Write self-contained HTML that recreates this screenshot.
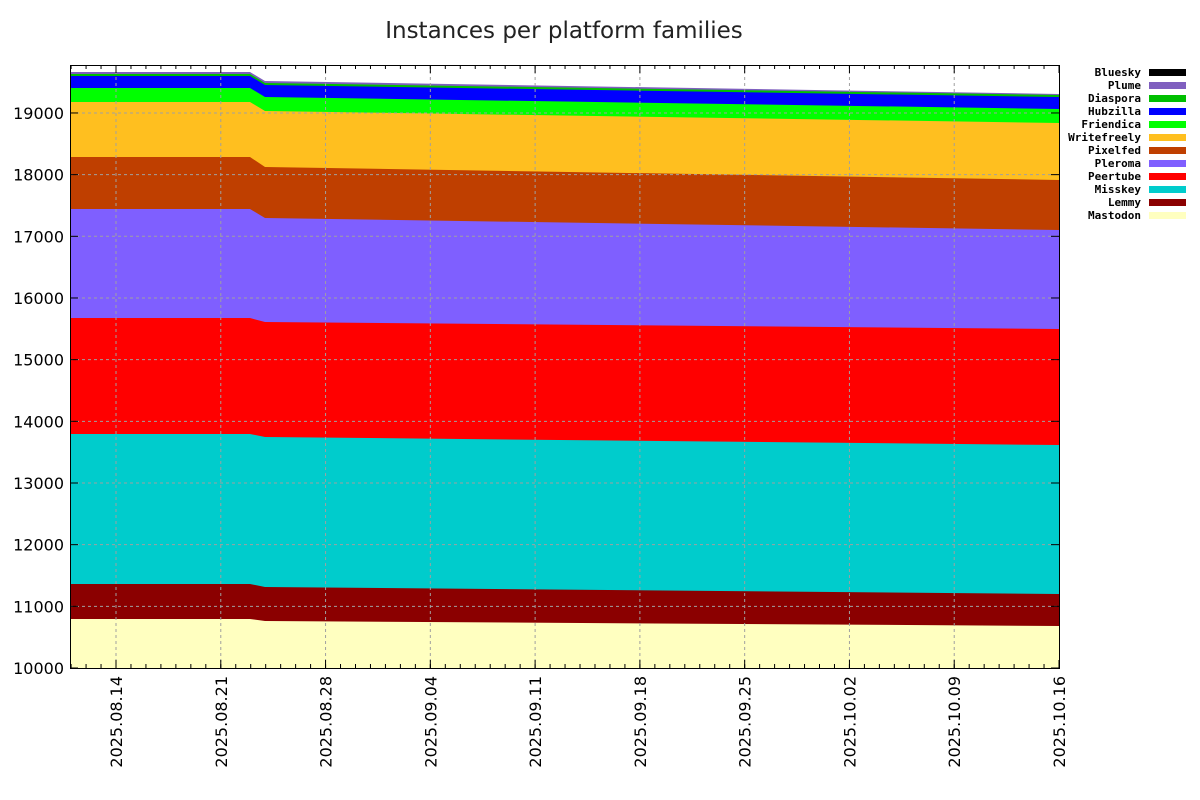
<!DOCTYPE html>
<html><head><meta charset="utf-8"><style>body{margin:0;background:#fff}svg{display:block}</style></head><body>
<svg id="s" width="1200" height="800" xmlns="http://www.w3.org/2000/svg" font-family="DejaVu Sans, sans-serif">
<text x="564" y="38" font-size="23" text-anchor="middle" fill="#222">Instances per platform families</text>
<g id="layers"></g>
<g id="grid" stroke="#a0a0a0" stroke-dasharray="3,3" stroke-width="1"></g>
<rect x="70.5" y="65.5" width="989" height="603" fill="none" stroke="#000" stroke-width="1"/>
<g id="ticks" stroke="#000"></g>
<g id="lab" font-size="16" fill="#000"></g>
<g id="leg" font-family="DejaVu Sans Mono, monospace" font-weight="bold" font-size="11" text-anchor="end"></g>
</svg>
<script>
var L=[["Plume","#7f5fbf",[72,81,94]],["Diaspora","#00bf00",[74,83,95]],["Hubzilla","#0000ff",[76,85,97]],["Friendica","#00ff00",[88,97,109]],["Writefreely","#ffbf1f",[102,111,123]],["Pixelfed","#bf3f00",[157,167,180]],["Pleroma","#7f5fff",[209,218,230]],["Peertube","#ff0000",[318,322,329]],["Misskey","#00cccc",[434,437,445]],["Lemmy","#8b0000",[584,587,594]],["Mastodon","#ffffc0",[619,621,626]]];
var ns="http://www.w3.org/2000/svg";function el(t,a,p){var e=document.createElementNS(ns,t);for(var k in a)e.setAttribute(k,a[k]);p.appendChild(e);return e}
var g=document.getElementById("layers");
L.forEach(function(l){var y=l[2];var pts="70,668 70,"+y[0]+" 250,"+y[0]+" 265,"+y[1]+" 1059,"+y[2]+" 1059,668";el("polygon",{points:pts,fill:l[1]},g)});
var gr=document.getElementById("grid"),tk=document.getElementById("ticks"),lb=document.getElementById("lab");
for(var i=0;i<10;i++){var y=668-i*61.67;if(i>0)el("line",{x1:70,x2:1059,y1:y,y2:y},gr);el("line",{x1:70,x2:78,y1:y,y2:y},tk);el("line",{x1:1051,x2:1059,y1:y,y2:y},tk);var t=el("text",{x:64,y:y+6,"text-anchor":"end"},lb);t.textContent=(10000+i*1000)}
var d=["2025.08.14","2025.08.21","2025.08.28","2025.09.04","2025.09.11","2025.09.18","2025.09.25","2025.10.02","2025.10.09","2025.10.16"];
var sp=(1059-116)/9;
for(var k=0;k<10;k++){var x=116+k*sp;if(k<9)el("line",{x1:x,x2:x,y1:65,y2:668},gr);el("line",{x1:x,x2:x,y1:668,y2:660},tk);el("line",{x1:x,x2:x,y1:65,y2:73},tk);var t=el("text",{x:0,y:0,"text-anchor":"end",transform:"translate("+(x+6)+",676) rotate(-90)"},lb);t.textContent=d[k]}
for(var x=116-3*sp/7;x<1059;x+=sp/7){el("line",{x1:x,x2:x,y1:668,y2:664},tk);el("line",{x1:x,x2:x,y1:65,y2:69},tk)}
var lg=document.getElementById("leg");var names=[["Bluesky","#000"]].concat(L.map(function(l){return[l[0],l[1]]}));
names.forEach(function(n,i){var y=72+i*13;var t=el("text",{x:1141,y:y+4},lg);t.textContent=n[0];el("rect",{x:1149,y:y-3,width:37,height:7,fill:n[1]},lg)});
</script>
</body></html>
